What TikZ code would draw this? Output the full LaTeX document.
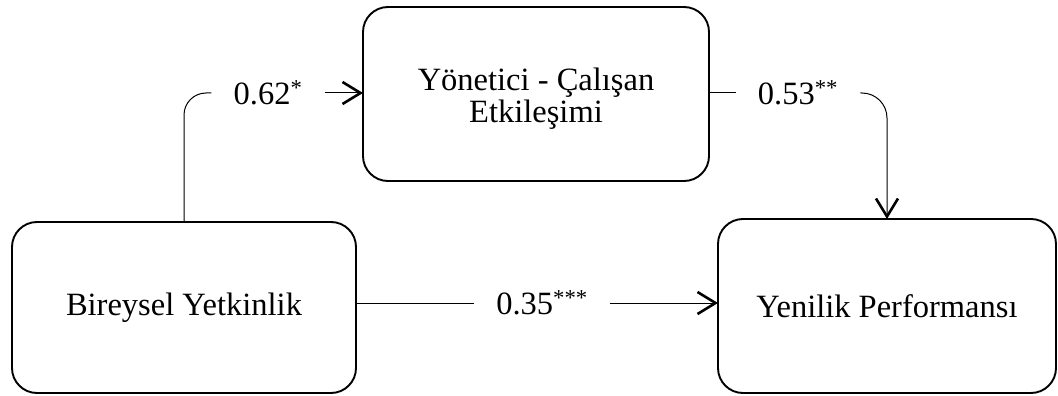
\documentclass[tikz,border=0pt]{standalone}
\usepackage{fontspec}
\setmainfont{Liberation Serif}
\usetikzlibrary{arrows.meta}
\begin{document}
\begin{tikzpicture}[x=1pt,y=-1pt,
  box/.style={draw, line width=1.9pt, rounded corners=25pt, outer sep=0pt,
    align=center, font=\fontsize{32.5}{32}\selectfont},
  boxtext/.style={align=center, inner sep=0pt, font=\fontsize{32.5}{32}\selectfont},
  coef/.style={inner xsep=22pt, inner ysep=2pt, font=\fontsize{32.5}{34}\selectfont},
  link/.style={line width=1pt},
  tip/.style={-{Straight Barb[length=18pt,width=22pt,line width=2.6pt]}}
]
\useasboundingbox (0,0) rectangle (1058,396);

% constructs
\node[box, minimum width=344pt, minimum height=171pt] (bl) at (184,307.5) {Bireysel Yetkinlik};
\node[box, minimum width=346pt, minimum height=174pt] (top) at (536,94) {};
\node[boxtext] (toptext) at (536,99) {Yönetici - Çalışan\\Etkileşimi};
\node[box, minimum width=338pt, minimum height=174pt] (rb) at (887,306) {Yenilik Performansı};

% path coefficients
\node[coef] (lab62) at (268,93) {0.62\textsuperscript{*}};
\node[coef] (lab53) at (798,93) {0.53\textsuperscript{**}};
\node[coef] (lab35) at (542,303) {0.35\textsuperscript{***}};

% paths
\draw[link, rounded corners=22pt] (bl.north) |- (lab62.west);
\draw[link, tip] (lab62.east) -- (top.west |- lab62.east);
\draw[link] (top.east |- lab53.west) -- (lab53.west);
\draw[link, tip, rounded corners=25pt] (lab53.east) -| (rb.north);
\draw[link] (bl.east |- lab35.west) -- (lab35.west);
\draw[link, tip] (lab35.east) -- (rb.west |- lab35.east);
\end{tikzpicture}
\end{document}
